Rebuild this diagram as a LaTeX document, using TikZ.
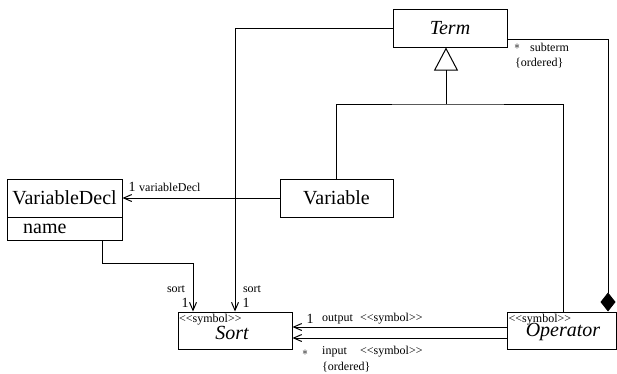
\documentclass[tikz,border=0pt]{standalone}
\usepackage{fontspec}
\setmainfont{Liberation Serif}
\usetikzlibrary{arrows.meta}
\newcommand\stereo[1]{<\kern0pt<#1>\kern0pt>}
\tikzset{
  box/.style={draw, line width=1pt, inner sep=0pt},
  big/.style={inner sep=0pt, font=\fontsize{20}{24}\selectfont},
  bigit/.style={inner sep=0pt, font=\fontsize{20}{24}\selectfont\itshape},
  lbl/.style={inner sep=0pt, font=\fontsize{12}{14}\selectfont},
  mult/.style={inner sep=0pt, font=\fontsize{14}{16}\selectfont},
  assoc/.style={line width=1pt, -{Straight Barb[length=8pt,width=7pt]}},
  plain/.style={line width=1pt},
  gen/.style={line width=1pt, -{Triangle[open,length=23pt,width=24pt]}},
  comp/.style={line width=1pt, {Diamond[length=19pt,width=15pt]}-}
}
\begin{document}
\begin{tikzpicture}[x=1pt,y=-1pt]
\useasboundingbox (0,0) rectangle (617,373);
% classes
\node[box, bigit, minimum width=114pt, minimum height=38pt] (term) at (450,28) {Term};
\node[box, big, minimum width=113pt, minimum height=38pt] (var) at (336.5,198) {Variable};
\node[box, big, minimum width=115pt, minimum height=38pt] (vdecl) at (64.5,198) {VariableDecl};
\node[box, minimum width=115pt, minimum height=23pt] (vdname) at (64.5,228.5) {};
\node[big, anchor=west] (nametext) at (23,228.5) {name};
\node[box, minimum width=114pt, minimum height=37pt] (sort) at (235,330.5) {};
\node[lbl, anchor=north west] (sortst) at (179,313.5) {\stereo{symbol}};
\node[bigit] (sortname) at (232,333) {Sort};
\node[box, minimum width=109pt, minimum height=37pt] (op) at (561.5,330.5) {};
\node[lbl, anchor=north west] (opst) at (508.5,313.5) {\stereo{symbol}};
\node[bigit] (opname) at (563,332) {Operator};
% connectors
\coordinate (j) at (446,104);
\draw[plain] (var.north) |- (j) -| ([xshift=1.5pt]op.north);
\draw[gen] (j) -- ([xshift=-4pt]term.south);
\draw[comp] ([xshift=46.5pt]op.north) |- ([yshift=-11pt]term.east);
\draw[assoc] (term.west) -| (sort.north);
\draw[assoc] (var.west) -- (vdecl.east);
\draw[assoc] ([xshift=37.5pt]vdname.south) -- ++(0,23) -| ([xshift=-42pt]sort.north);
\draw[assoc] ([yshift=3.5pt]op.west) -- ([yshift=3.5pt]sort.east);
\draw[assoc] ([yshift=-7.5pt]op.west) -- ([yshift=-7.5pt]sort.east);
% labels
\node[mult] (m1) at (132,187) {1};
\node[lbl, anchor=west] (l1) at (139,187) {variableDecl};
\node[lbl] (s1) at (176,289) {sort};
\node[mult] (m2) at (185,303) {1};
\node[lbl] (s2) at (252,289) {sort};
\node[mult] (m3) at (246,303) {1};
\node[lbl] (m4) at (517,47) {$\ast$};
\node[lbl, anchor=west] (l4) at (530,47) {subterm};
\node[lbl, anchor=west] (l5) at (515,63) {\{ordered\}};
\node[mult] (m5) at (310,319) {1};
\node[lbl, anchor=west] (l6) at (322,319) {output};
\node[lbl, anchor=west] (l7) at (360,319) {\stereo{symbol}};
\node[lbl] (m6) at (305,353) {$\ast$};
\node[lbl, anchor=west] (l8) at (322,352) {input};
\node[lbl, anchor=west] (l9) at (360,352) {\stereo{symbol}};
\node[lbl, anchor=west] (l10) at (322,367) {\{ordered\}};
\end{tikzpicture}
\end{document}
